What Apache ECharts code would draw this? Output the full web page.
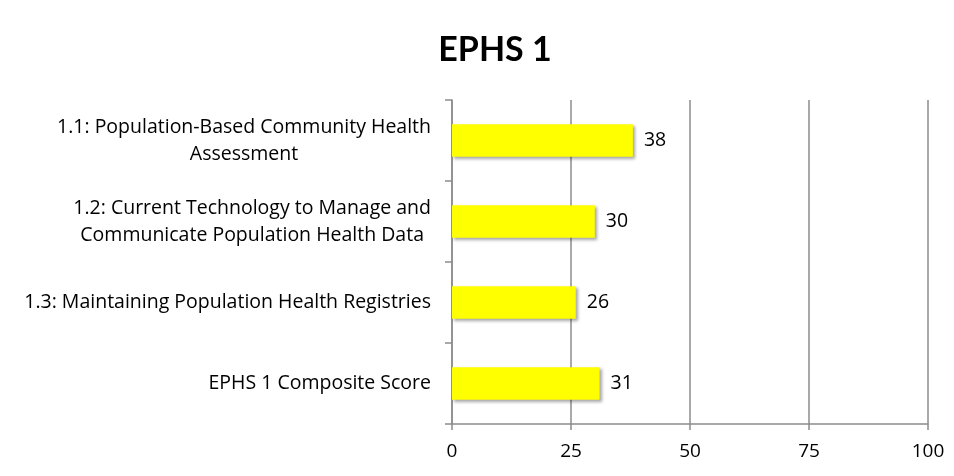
<!DOCTYPE html>
<html>
<head>
<meta charset="utf-8">
<script src="https://cdn.jsdelivr.net/npm/echarts@6/dist/echarts.min.js"></script>
<style>
  html, body { margin: 0; padding: 0; background: #fff; }
  #chart { width: 954px; height: 476px; }
</style>
</head>
<body>
<div id="chart"></div>
<script>
// data
const categories = [
  "1.1: Population-Based Community Health\nAssessment",
  "1.2: Current Technology to Manage and\nCommunicate Population Health Data",
  "1.3: Maintaining Population Health Registries",
  "EPHS 1 Composite Score"
];
const scores = [38, 30, 26, 31];
const xTicks = [0, 25, 50, 75, 100];

const titleFont = "Lato, 'Open Sans', sans-serif";
const font = "'Open Sans', Lato, sans-serif";
const chart = echarts.init(document.getElementById("chart"));

chart.setOption({
  animation: false,
  title: {
    text: "EPHS 1",
    left: 490,
    top: 28,
    textAlign: "center",
    textStyle: { fontFamily: titleFont, fontWeight: "bold", fontSize: 34, color: "#000" }
  },
  grid: { left: 452, right: 26, top: 100, bottom: 52 },
  xAxis: {
    type: "value",
    min: 0,
    max: 100,
    interval: 25,
    axisLine: { show: true, lineStyle: { color: "#8c8c8c", width: 1.5 } },
    axisTick: { show: true, length: 6, lineStyle: { color: "#8c8c8c", width: 1.5 } },
    splitLine: { lineStyle: { color: "#8c8c8c", width: 1.5 } },
    axisLabel: {
      margin: 18,
      fontFamily: font,
      fontSize: 19,
      color: "#000",
      formatter: v => (xTicks.includes(v) ? String(v) : "")
    }
  },
  yAxis: {
    type: "category",
    data: categories,
    inverse: true,
    axisLine: { show: true, lineStyle: { color: "#8c8c8c", width: 1.5 } },
    axisTick: { show: true, length: 7, lineStyle: { color: "#8c8c8c", width: 1.5 } },
    axisLabel: {
      margin: 21,
      color: "#000",
      formatter: v => v.split("\n").map(s => "{c|" + s + "}").join("\n"),
      rich: {
        c: { align: "center", fontFamily: font, fontSize: 19.5, lineHeight: 27, color: "#000" }
      }
    }
  },
  series: [{
    type: "bar",
    data: scores,
    barWidth: "40%",
    itemStyle: {
      color: "#ffff00",
      shadowColor: "rgba(0,0,0,0.35)",
      shadowBlur: 3,
      shadowOffsetX: 2,
      shadowOffsetY: 2
    },
    label: {
      show: true,
      position: "right",
      distance: 11,
      fontFamily: font,
      fontSize: 19.5,
      color: "#000"
    }
  }]
});
</script>
</body>
</html>
